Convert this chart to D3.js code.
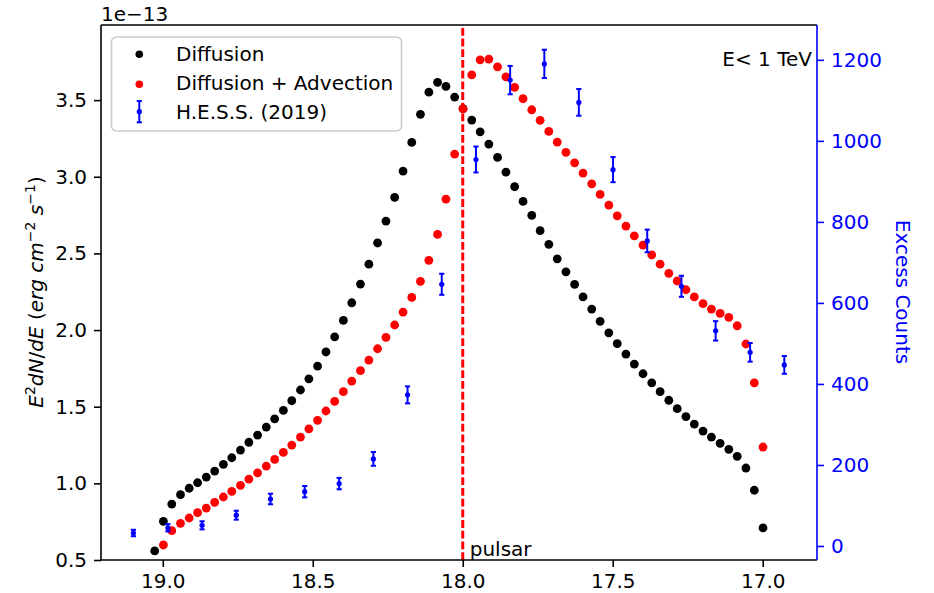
<!DOCTYPE html>
<html><head><meta charset="utf-8">
<script src="https://cdn.jsdelivr.net/npm/d3@7/dist/d3.min.js"></script>
<style>
body{margin:0;background:#fff;}
svg text{font-family:"DejaVu Sans",sans-serif;}
</style></head>
<body><svg id="chart" width="934" height="593"></svg>
<script>
// Galactic-longitude style x positions of the model profile bins
const xBins = [19.027,18.998,18.970,18.941,18.912,18.884,18.855,18.827,18.798,18.770,
  18.741,18.713,18.684,18.655,18.627,18.598,18.570,18.541,18.513,18.484,
  18.456,18.427,18.398,18.370,18.341,18.313,18.284,18.256,18.227,18.199,
  18.170,18.141,18.113,18.084,18.056,18.027,17.999,17.970,17.942,17.913,
  17.884,17.856,17.827,17.799,17.770,17.742,17.713,17.685,17.656,17.627,
  17.599,17.570,17.542,17.513,17.485,17.456,17.428,17.399,17.370,17.342,
  17.313,17.285,17.256,17.228,17.199,17.171,17.142,17.113,17.085,17.056,
  17.028,16.999];
// E^2 dN/dE in units of 1e-13
const diffusion = [0.559,0.752,0.865,0.926,0.968,1.004,1.041,1.080,1.124,1.167,
  1.217,1.268,1.315,1.367,1.420,1.476,1.539,1.609,1.682,1.765,
  1.857,1.956,2.063,2.178,2.300,2.430,2.568,2.711,2.866,3.037,
  3.224,3.407,3.552,3.616,3.589,3.520,3.445,3.370,3.293,3.213,
  3.126,3.030,2.935,2.839,2.748,2.648,2.559,2.465,2.380,2.298,
  2.217,2.137,2.057,1.982,1.911,1.843,1.778,1.715,1.656,1.598,
  1.542,1.487,1.435,1.387,1.341,1.302,1.261,1.222,1.176,1.100,
  0.955,0.709];
const diffusionAdvection = [null,0.598,0.691,0.739,0.774,0.809,0.839,0.876,0.911,0.948,
  0.987,1.028,1.069,1.113,1.157,1.202,1.250,1.302,1.356,1.411,
  1.472,1.535,1.598,1.667,1.735,1.804,1.878,1.952,2.033,2.117,
  2.213,2.318,2.455,2.624,2.854,3.148,3.443,3.665,3.763,3.768,
  3.717,3.652,3.583,3.509,3.437,3.368,3.296,3.226,3.159,3.091,
  3.024,2.954,2.885,2.815,2.745,2.678,2.615,2.554,2.491,2.430,
  2.370,2.320,2.263,2.216,2.172,2.137,2.109,2.083,2.028,1.909,
  1.656,1.237];
// H.E.S.S. (2019) excess counts
const hessX = [19.098,18.983,18.869,18.755,18.641,18.527,18.412,18.298,18.184,18.070,
  17.956,17.842,17.728,17.613,17.499,17.385,17.271,17.157,17.042,16.928];
const hessCounts = [32,45,51,76,116,134,154,215,373,646,
  954,1150,1190,1095,929,753,641,531,478,447];
const hessErr = [8,9,10,11,13,14,14,17,21,26,
  32,35,35,33,31,28,26,24,23,22];

const xTicks = [19.0,18.5,18.0,17.5,17.0];
const yTicks = [0.5,1.0,1.5,2.0,2.5,3.0,3.5];
const countTicks = [0,200,400,600,800,1000,1200];
const pulsarX = 18.0;

const svg = d3.select("#chart");
const L = 101, R = 817, T = 25, B = 560;
const x = d3.scaleLinear().domain([19.206, 16.819]).range([L, R]);
const y = d3.scaleLinear().domain([0.5, 3.99]).range([B, T]);
const y2 = d3.scaleLinear().domain([-34.6, 1286]).range([B, T]);

const FS = 20;

// points
const g = svg.append("g");
g.selectAll("circle.diff").data(xBins.map((v,i)=>[v,diffusion[i]]))
  .join("circle").attr("class","diff")
  .attr("cx",d=>x(d[0])).attr("cy",d=>y(d[1])).attr("r",4.4).attr("fill","#000");
g.selectAll("circle.adv").data(xBins.map((v,i)=>[v,diffusionAdvection[i]]).filter(d=>d[1]!=null))
  .join("circle").attr("class","adv")
  .attr("cx",d=>x(d[0])).attr("cy",d=>y(d[1])).attr("r",4.4).attr("fill","#ff0000");

// pulsar line
svg.append("line").attr("x1",x(pulsarX)).attr("x2",x(pulsarX)).attr("y1",B).attr("y2",T)
  .attr("stroke","#ff0000").attr("stroke-width",3).attr("stroke-dasharray","7.8,2.9");
svg.append("text").attr("x",x(pulsarX)+7).attr("y",556).attr("font-size",FS).attr("fill","#000").text("pulsar");

// HESS errorbars
const hb = svg.append("g");
hessX.forEach((v,i)=>{
  const cx = x(v), lo = y2(hessCounts[i]-hessErr[i]), hi = y2(hessCounts[i]+hessErr[i]);
  hb.append("line").attr("x1",cx).attr("x2",cx).attr("y1",lo).attr("y2",hi).attr("stroke","#0000ff").attr("stroke-width",2);
  hb.append("line").attr("x1",cx-2.6).attr("x2",cx+2.6).attr("y1",lo).attr("y2",lo).attr("stroke","#0000ff").attr("stroke-width",2);
  hb.append("line").attr("x1",cx-2.6).attr("x2",cx+2.6).attr("y1",hi).attr("y2",hi).attr("stroke","#0000ff").attr("stroke-width",2);
  hb.append("circle").attr("cx",cx).attr("cy",y2(hessCounts[i])).attr("r",2.6).attr("fill","#0000ff");
});

// axes
function styleAxis(sel, color){
  sel.selectAll("path").remove();
  sel.selectAll("line").attr("stroke",color).attr("stroke-width",1.6);
  sel.selectAll("text").attr("font-size",FS).attr("fill",color).attr("font-family","DejaVu Sans, sans-serif");
}
const ax = svg.append("g").attr("transform",`translate(0,${B})`)
  .call(d3.axisBottom(x).tickValues(xTicks).tickFormat(d3.format(".1f")).tickSize(7).tickPadding(7));
styleAxis(ax,"#000");
const ay = svg.append("g").attr("transform",`translate(${L},0)`)
  .call(d3.axisLeft(y).tickValues(yTicks).tickFormat(d3.format(".1f")).tickSize(7).tickPadding(7));
styleAxis(ay,"#000");
const ay2 = svg.append("g").attr("transform",`translate(${R},0)`)
  .call(d3.axisRight(y2).tickValues(countTicks).tickFormat(d3.format("d")).tickSize(7).tickPadding(7));
styleAxis(ay2,"#0000ff");

// spines
svg.append("line").attr("x1",L).attr("x2",R).attr("y1",T).attr("y2",T).attr("stroke","#000").attr("stroke-width",1.6);
svg.append("line").attr("x1",L).attr("x2",R).attr("y1",B).attr("y2",B).attr("stroke","#000").attr("stroke-width",1.6);
svg.append("line").attr("x1",L).attr("x2",L).attr("y1",T).attr("y2",B).attr("stroke","#000").attr("stroke-width",1.6);
svg.append("line").attr("x1",R).attr("x2",R).attr("y1",T).attr("y2",B).attr("stroke","#0000ff").attr("stroke-width",1.6);

// offset text
svg.append("text").attr("x",L).attr("y",21).attr("font-size",FS).text("1e\u221213");

// annotation
svg.append("text").attr("x",812).attr("y",66).attr("text-anchor","end").attr("font-size",FS).text("E< 1 TeV");

// y labels
const yl = svg.append("text").attr("transform","translate(43,292) rotate(-90)")
  .attr("text-anchor","middle").attr("font-size",FS).attr("fill","#000");
yl.append("tspan").attr("font-style","italic").text("E");
yl.append("tspan").attr("font-size",14).attr("dy",-8).text("2");
yl.append("tspan").attr("font-style","italic").attr("dy",8).text("dN");
yl.append("tspan").text("/");
yl.append("tspan").attr("font-style","italic").text("dE");
yl.append("tspan").text(" (");
yl.append("tspan").attr("font-style","italic").text("erg cm");
yl.append("tspan").attr("font-size",14).attr("dy",-8).text("\u22122");
yl.append("tspan").attr("dy",8).text(" ");
yl.append("tspan").attr("font-style","italic").text("s");
yl.append("tspan").attr("font-size",14).attr("dy",-8).text("\u22121");
yl.append("tspan").attr("dy",8).text(")");

svg.append("text").attr("transform","translate(896,292) rotate(90)")
  .attr("text-anchor","middle").attr("font-size",FS).attr("fill","#0000ff").text("Excess Counts");

// legend
const lg = svg.append("g");
lg.append("rect").attr("x",111.5).attr("y",37).attr("width",290).attr("height",94).attr("rx",5)
  .attr("fill","#fff").attr("fill-opacity",0.8).attr("stroke","#cccccc").attr("stroke-width",1.6);
const legendItems = ["Diffusion","Diffusion + Advection","H.E.S.S. (2019)"];
const legendBase = [61,90,119];
lg.append("circle").attr("cx",139.3).attr("cy",54.3).attr("r",3.8).attr("fill","#000");
lg.append("circle").attr("cx",139.3).attr("cy",84.3).attr("r",3.8).attr("fill","#ff0000");
lg.append("line").attr("x1",139.3).attr("x2",139.3).attr("y1",101).attr("y2",122.3).attr("stroke","#0000ff").attr("stroke-width",2);
lg.append("line").attr("x1",136.7).attr("x2",141.9).attr("y1",101).attr("y2",101).attr("stroke","#0000ff").attr("stroke-width",2);
lg.append("line").attr("x1",136.7).attr("x2",141.9).attr("y1",122.3).attr("y2",122.3).attr("stroke","#0000ff").attr("stroke-width",2);
lg.append("circle").attr("cx",139.3).attr("cy",111.7).attr("r",2.6).attr("fill","#0000ff");
legendItems.forEach((t,i)=>{
  lg.append("text").attr("x",176).attr("y",legendBase[i]).attr("font-size",FS).text(t);
});
</script></body></html>
